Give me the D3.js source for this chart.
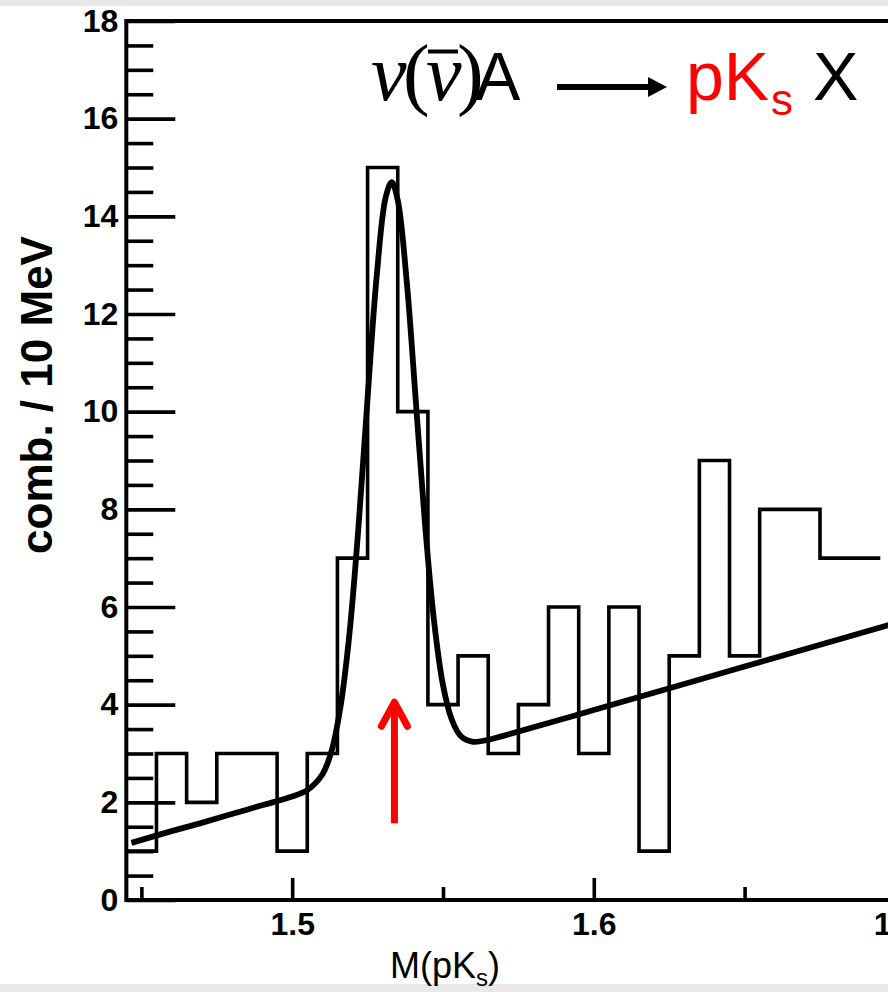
<!DOCTYPE html>
<html>
<head>
<meta charset="utf-8">
<script src="https://cdn.jsdelivr.net/npm/d3@7"></script>
<style>
  html, body { margin: 0; padding: 0; background: #fff; }
  svg { display: block; }
</style>
</head>
<body>
<svg id="chart" width="888" height="992"></svg>
<script>
// ---------------- data ----------------
const binStart = 1.445;      // GeV, low edge of first bin
const binWidth = 0.01;       // 10 MeV
const counts = [1, 3, 2, 3, 3, 1, 3, 7, 15, 10, 4, 5, 3, 4, 6, 3, 6, 1, 5, 9, 5, 8, 8, 7, 7];

// fit curve (mass, comb.)
const fitMass = [1.4467, 1.46, 1.47, 1.48, 1.49, 1.50, 1.505, 1.51, 1.513, 1.516, 1.519, 1.522, 1.525,
                 1.528, 1.531, 1.533, 1.535, 1.538, 1.541, 1.544, 1.547, 1.550, 1.553, 1.556, 1.560,
                 1.565, 1.57, 1.60, 1.65, 1.70, 1.75];
const fitVal  = [1.17, 1.41, 1.58, 1.76, 1.94, 2.12, 2.25, 2.57, 3.04, 3.95, 5.46, 7.66, 10.28,
                 12.76, 14.39, 14.70, 14.33, 12.65, 10.21, 7.73, 5.73, 4.40, 3.68, 3.35, 3.24,
                 3.28, 3.36, 3.89, 4.78, 5.67, 6.56];

const xMajorTicks = [1.5, 1.6, 1.7];
const xMinorTicks = [1.45, 1.55, 1.65, 1.75];
const yMajorTicks = [0, 2, 4, 6, 8, 10, 12, 14, 16, 18];
const yMinorTicks = d3.range(0, 18.01, 0.5).filter(v => v % 2 !== 0);

const arrowMass = 1.5339;
const arrowFrom = 1.57, arrowTo = 4.05;

// ---------------- layout ----------------
const svg = d3.select("#chart");
const W = 888, H = 992;
const x = d3.scaleLinear().domain([1.445, 1.75]).range([126.3, 1046.2]);
const y = d3.scaleLinear().domain([0, 18]).range([900, 21]);

svg.append("rect").attr("x", 0).attr("y", 0).attr("width", W).attr("height", H).attr("fill", "#fff");
svg.append("rect").attr("x", 0).attr("y", 0).attr("width", W).attr("height", 6).attr("fill", "#e8e8e8");
svg.append("rect").attr("x", 0).attr("y", 984).attr("width", W).attr("height", 8).attr("fill", "#e8e8e8");

svg.append("defs").append("clipPath").attr("id", "plotclip")
  .append("rect").attr("x", x(1.445)).attr("y", y(18)).attr("width", x(1.75) - x(1.445)).attr("height", y(0) - y(18));

const sans = "'Liberation Sans', Arial, Helvetica, sans-serif";
const serif = "'Liberation Serif', 'Times New Roman', serif";

// histogram (step outline)
const histPts = [[binStart, 0]].concat(counts.map((c, i) => [binStart + i * binWidth, c]));
histPts.push([binStart + counts.length * binWidth, counts[counts.length - 1]]);
svg.append("path")
  .attr("clip-path", "url(#plotclip)")
  .attr("d", d3.line().x(d => x(d[0])).y(d => y(d[1])).curve(d3.curveStepAfter)(histPts))
  .attr("fill", "none").attr("stroke", "#000").attr("stroke-width", 3.6);

// fit curve
const fitPts = fitMass.map((m, i) => [m, fitVal[i]]);
svg.append("path")
  .attr("clip-path", "url(#plotclip)")
  .attr("d", d3.line().x(d => x(d[0])).y(d => y(d[1])).curve(d3.curveCatmullRom.alpha(0.5))(fitPts))
  .attr("fill", "none").attr("stroke", "#000").attr("stroke-width", 5.8)
  .attr("stroke-linejoin", "round").attr("stroke-linecap", "butt");

// axes
const yMajor = d3.axisLeft(y).tickValues(yMajorTicks).tickSize(-49).tickPadding(8).tickFormat(d3.format("d"));
const yMinor = d3.axisLeft(y).tickValues(yMinorTicks).tickSize(-27).tickFormat("");
const xMajor = d3.axisBottom(x).tickValues(xMajorTicks).tickSize(-22).tickPadding(12).tickFormat(d3.format(".1f"));
const xMinor = d3.axisBottom(x).tickValues(xMinorTicks).tickSize(-13).tickFormat("");

function styleAxis(g) {
  g.select(".domain").remove();
  g.selectAll(".tick line").attr("stroke", "#000").attr("stroke-width", 3.6);
  g.selectAll(".tick text").attr("fill", "#000").attr("font-family", sans)
    .attr("font-weight", "bold").attr("font-size", 32);
}
svg.append("g").attr("transform", `translate(${x(1.445)},0)`).call(yMinor).call(styleAxis);
svg.append("g").attr("transform", `translate(${x(1.445)},0)`).call(yMajor).call(styleAxis);
svg.append("g").attr("transform", `translate(0,${y(0)})`).call(xMinor).call(styleAxis);
const gx = svg.append("g").attr("transform", `translate(0,${y(0)})`).call(xMajor).call(styleAxis);
gx.selectAll(".tick text").attr("dy", "0.71em");

// frame
svg.append("path")
  .attr("d", `M${x(1.75)},${y(18)} L${x(1.445)},${y(18)} L${x(1.445)},${y(0)} L${x(1.75)},${y(0)}`)
  .attr("fill", "none").attr("stroke", "#000").attr("stroke-width", 4);

// red arrow
const ax = x(arrowMass);
const red = "#ff0000";
svg.append("line").attr("x1", ax).attr("x2", ax).attr("y1", y(arrowFrom)).attr("y2", y(arrowTo) + 2)
  .attr("stroke", red).attr("stroke-width", 7);
svg.append("path")
  .attr("d", `M${ax - 13},${y(arrowTo) + 24} L${ax},${y(arrowTo)} L${ax + 13},${y(arrowTo) + 24}`)
  .attr("fill", "none").attr("stroke", red).attr("stroke-width", 7)
  .attr("stroke-linecap", "round").attr("stroke-linejoin", "round");

// axis titles
svg.append("text")
  .attr("transform", "translate(52,395) rotate(-90)")
  .attr("text-anchor", "middle")
  .attr("font-family", sans).attr("font-weight", "bold").attr("font-size", 44)
  .text("comb. / 10 MeV");

const xt = svg.append("text").attr("x", 390).attr("y", 978)
  .attr("font-family", sans).attr("font-size", 36).attr("fill", "#000");
xt.append("tspan").text("M(pK");
xt.append("tspan").attr("font-size", 24).attr("dy", 8).text("s");
xt.append("tspan").attr("dy", -8).text(")");

// reaction label: ν(ν̄)A  →  pKs X
const lhs = svg.append("text").attr("y", 100).attr("font-family", serif).attr("font-size", 80);
lhs.append("tspan").attr("x", 371).attr("font-style", "italic").text("ν");
lhs.append("tspan").attr("x", 403).text("(");
lhs.append("tspan").attr("x", 426).attr("font-style", "italic").text("ν");
lhs.append("tspan").attr("x", 457).text(")");
lhs.append("tspan").attr("x", 475).attr("font-family", sans).attr("font-size", 68).text("A");
svg.append("line").attr("x1", 428).attr("x2", 458).attr("y1", 51.5).attr("y2", 51.5)
  .attr("stroke", "#000").attr("stroke-width", 4);

svg.append("line").attr("x1", 557).attr("x2", 652).attr("y1", 87).attr("y2", 87)
  .attr("stroke", "#000").attr("stroke-width", 6);
svg.append("path").attr("d", "M648,77 L667,87 L648,97 Z").attr("fill", "#000");

const rhs = svg.append("text").attr("y", 100).attr("font-family", sans).attr("font-size", 68);
rhs.append("tspan").attr("x", 686).attr("fill", red).text("pK");
rhs.append("tspan").attr("x", 771).attr("dy", 15).attr("font-size", 44).attr("fill", red).text("s");
rhs.append("tspan").attr("x", 813).attr("dy", -15).attr("fill", "#000").text("X");
</script>
</body>
</html>
